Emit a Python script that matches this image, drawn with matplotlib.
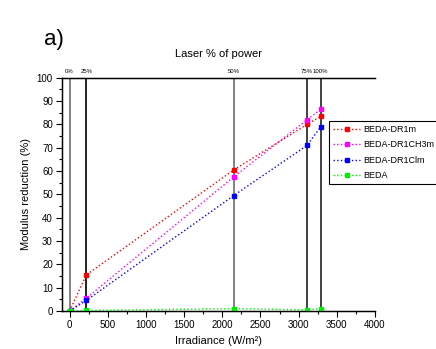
import numpy as np
import matplotlib
matplotlib.use("Agg")
import matplotlib.pyplot as plt
from matplotlib.ticker import MultipleLocator

# ── Data ──────────────────────────────────────────────────────────────────────

irradiance = [0, 220, 2150, 3110, 3290]
power_labels = ["0%", "25%", "50%", "75%", "100%"]

dr1m = [0, 15.5, 60.5, 80, 83.5]
dr1ch3m = [0, 5.5, 57.5, 82, 86.5]
dr1clm = [0, 4.5, 49.5, 71, 79]
beda = [0, 0.2, 1.0, 0.5, 1.0]

series = [
    ("BEDA-DR1m", dr1m, "#ff0000"),
    ("BEDA-DR1CH3m", dr1ch3m, "#ff00ff"),
    ("BEDA-DR1Clm", dr1clm, "#0000ff"),
    ("BEDA", beda, "#00ee00"),
]

vline_colors = ["#777777", "#111111", "#777777", "#333333", "#333333"]

# ── Plot ─────────────────────────────────────────────────────────────────────

plt.rcParams["font.family"] = ["Liberation Sans", "DejaVu Sans"]

fig = plt.figure(figsize=(4.36, 3.49), dpi=100)
ax = fig.add_axes([0.142, 0.109, 0.718, 0.668])

for x, c in zip(irradiance, vline_colors):
    ax.axvline(x, color=c, lw=1.3, zorder=1)

for name, vals, c in series:
    ax.plot(irradiance, vals, ls=":", color=c, lw=1.0, marker="s",
            markersize=3.5, label=name, zorder=3)

ax.set_xlim(-100, 4000)
ax.set_ylim(0, 100)
ax.xaxis.set_major_locator(MultipleLocator(500))
ax.xaxis.set_minor_locator(MultipleLocator(250))
ax.yaxis.set_major_locator(MultipleLocator(10))
ax.yaxis.set_minor_locator(MultipleLocator(5))
ax.tick_params(which="both", direction="out", labelsize=7, width=0.8)
ax.tick_params(which="major", length=4, pad=2.5)
ax.tick_params(which="minor", length=2)
ax.spines["right"].set_visible(False)
for s in ["left", "bottom", "top"]:
    ax.spines[s].set_linewidth(1.0)

ax.set_xlabel("Irradiance (W/m²)", fontsize=8, labelpad=4)
ax.set_ylabel("Modulus reduction (%)", fontsize=8)

top = ax.twiny()
top.set_xlim(ax.get_xlim())
top.set_xticks(irradiance)
top.set_xticklabels(power_labels, fontsize=4.3)
top.tick_params(length=0, pad=3)
top.spines["right"].set_visible(False)
top.set_title("Laser % of power", fontsize=8, pad=15)

leg = ax.legend(loc="upper left", bbox_to_anchor=(0.755, 0.653),
                bbox_transform=fig.transFigure, fontsize=6.5, frameon=True,
                fancybox=False, edgecolor="black", framealpha=1,
                handlelength=3.0, handletextpad=0.35, labelspacing=0.7,
                borderpad=0.45, borderaxespad=0)
leg.get_frame().set_linewidth(0.8)

fig.text(0.1, 0.87, "a)", fontsize=16)

fig.savefig("out.png", dpi=100)
